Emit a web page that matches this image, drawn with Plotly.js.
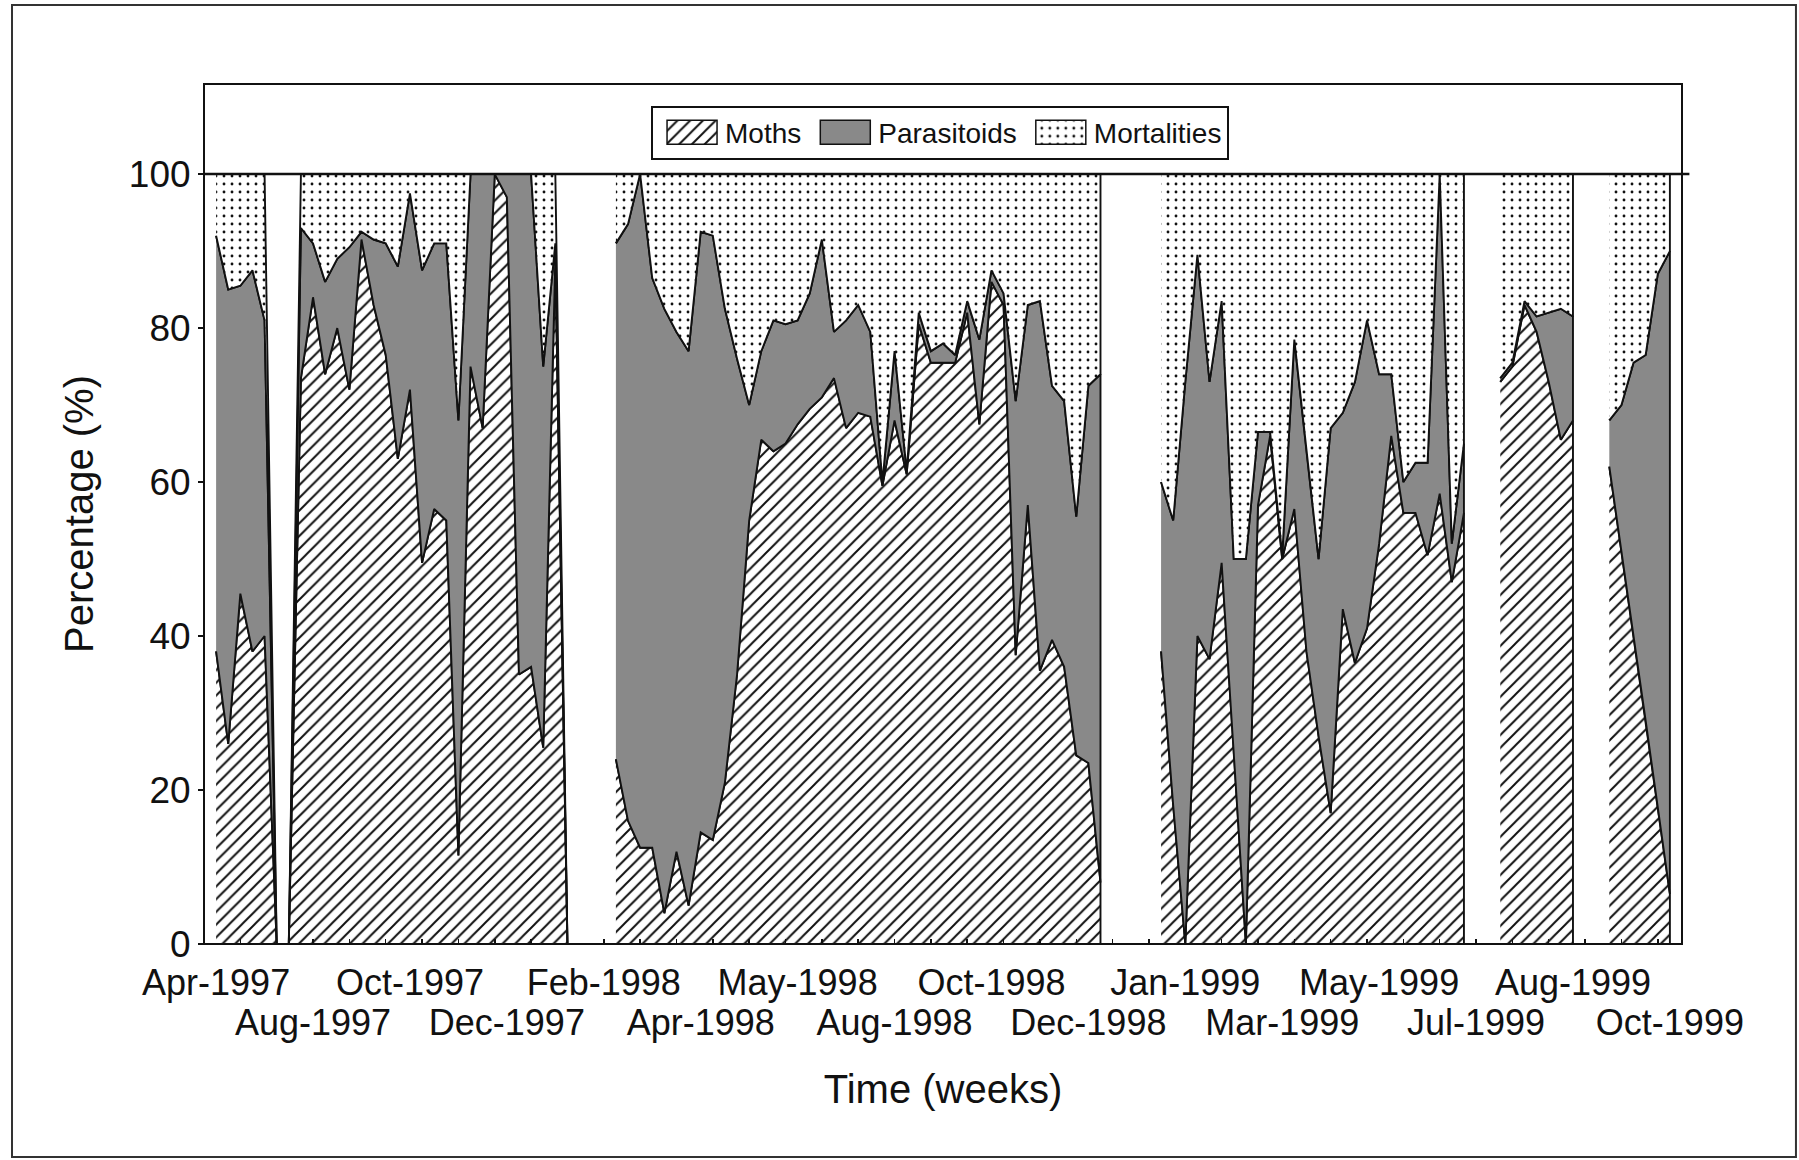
<!DOCTYPE html>
<html>
<head>
<meta charset="utf-8">
<script src="https://cdn.plot.ly/plotly-3.0.1.min.js"></script>
<style>
  html, body { margin: 0; padding: 0; background: #fff; }
  #chart { width: 1799px; height: 1160px; }
</style>
</head>
<body>
<div id="chart"></div>
<script>
// Weekly fate of collected larvae (% of each week's sample).
// Index 0 = first sampling week (April 1997); null = no sample that week.
const moths = [
  38, 26, 45.5, 38, 40, 0, 0,
  73.5, 84, 74, 80, 72, 91.5, 83, 76.5, 63, 72, 49.5, 56.5, 55, 11.5, 75, 67, 100, 97, 35, 36, 25.5, 89, 0,
  null, null, null,
  24, 16, 12.5, 12.5, 4, 12, 5, 14.5, 13.5, 21, 35, 55, 65.5, 64, 65, 67.5, 69.5, 71, 73.5, 67, 69, 68.5,
  59.5, 68, 61, 80.5, 75.5, 75.5, 75.5, 82, 67.5, 86, 83, 37.5, 57, 35.5, 39.5, 36, 24.5, 23.5, 8,
  null, null, null, null,
  38, 18, 0, 40, 37, 49.5, 25, 0, 57, 66, 50, 56.5, 38, 27, 17, 43.5, 36.5, 41, 52, 66, 56, 56, 50.5, 58.5, 47, 56,
  null, null,
  73, 75, 83, 79.5, 73, 65.5, 68,
  null, null,
  62, 51, 40, 29, 18, 6.5
];
const parasitoids = [
  54, 59, 40, 49.5, 41, 0, 0,
  19.5, 7, 12, 9, 18.5, 1, 8.5, 14.5, 25, 25.5, 38, 34.5, 36, 56.5, 25, 33, 0, 3, 65, 64, 49.5, 2, 0,
  null, null, null,
  67, 77.5, 87.5, 74, 78.5, 67.5, 72, 78, 78.5, 61.5, 41, 15, 11.5, 17, 15.5, 13.5, 15, 20.5, 6, 14, 14, 11,
  0.5, 9, 0.5, 1.5, 1.5, 2.5, 1, 1.5, 11, 1.5, 1.5, 33, 26, 48, 33, 34.5, 31, 49, 66,
  null, null, null, null,
  22, 37, 73, 49.5, 36, 34, 25, 50, 9.5, 0.5, 0.5, 22, 26, 23, 50, 25.5, 36.5, 40, 22, 8, 4, 6.5, 12, 41.5, 5, 9,
  null, null,
  0.5, 0.5, 0.5, 2, 9, 17, 13.5,
  null, null,
  6, 19, 35.5, 47.5, 69, 83.5
];
const mortalities = [
  8, 15, 14.5, 12.5, 19, 0, 0,
  7, 9, 14, 11, 9.5, 7.5, 8.5, 9, 12, 2.5, 12.5, 9, 9, 32, 0, 0, 0, 0, 0, 0, 25, 9, 0,
  null, null, null,
  9, 6.5, 0, 13.5, 17.5, 20.5, 23, 7.5, 8, 17.5, 24, 30, 23, 19, 19.5, 19, 15.5, 8.5, 20.5, 19, 17, 20.5,
  40, 23, 38.5, 18, 23, 22, 23.5, 16.5, 21.5, 12.5, 15.5, 29.5, 17, 16.5, 27.5, 29.5, 44.5, 27.5, 26,
  null, null, null, null,
  40, 45, 27, 10.5, 27, 16.5, 50, 50, 33.5, 33.5, 49.5, 21.5, 36, 50, 33, 31, 27, 19, 26, 26, 40, 37.5, 37.5, 0, 48, 35,
  null, null,
  26.5, 24.5, 16.5, 18.5, 18, 17.5, 18.5,
  null, null,
  32, 30, 24.5, 23.5, 13, 10
];
const seriesNames = ['Moths', 'Parasitoids', 'Mortalities'];

// Labelled weeks on the time axis (labels alternate between two rows)
const tickWeeks = [0, 8, 16, 24, 32, 40, 48, 56, 64, 72, 80, 88, 96, 104, 112, 120];
const tickLabels = ['Apr-1997', 'Aug-1997', 'Oct-1997', 'Dec-1997', 'Feb-1998', 'Apr-1998',
  'May-1998', 'Aug-1998', 'Oct-1998', 'Dec-1998', 'Jan-1999', 'Mar-1999', 'May-1999',
  'Jul-1999', 'Aug-1999', 'Oct-1999'];

const week = moths.map((_, i) => i);
const upperRow = tickWeeks.filter((_, i) => i % 2 === 0);
const upperText = tickLabels.filter((_, i) => i % 2 === 0);
const lowerRow = tickWeeks.filter((_, i) => i % 2 === 1);
const lowerText = tickLabels.filter((_, i) => i % 2 === 1);

// Build stacked bands: one closed polygon per run of sampled weeks,
// runs separated by null so each run is filled on its own.
function stackBands(seriesList) {
  const n = week.length;
  const base = new Array(n).fill(0);
  return seriesList.map(vals => {
    const lower = base.slice();
    const upper = vals.map((v, i) => v == null ? null : lower[i] + v);
    vals.forEach((v, i) => { if (v != null) base[i] += v; });
    const xs = [], ys = [];
    let i = 0;
    while (i < n) {
      if (vals[i] == null) { i++; continue; }
      let j = i;
      while (j + 1 < n && vals[j + 1] != null) j++;
      for (let k = i; k <= j; k++) { xs.push(week[k]); ys.push(upper[k]); }
      for (let k = j; k >= i; k--) { xs.push(week[k]); ys.push(lower[k]); }
      xs.push(null); ys.push(null);
      i = j + 1;
    }
    return { xs, ys };
  });
}

const bands = stackBands([moths, parasitoids, mortalities]);

const styles = [
  { fillcolor: '#ffffff', fillpattern: { shape: '/', size: 9, solidity: 0.22, fgcolor: '#111111', bgcolor: '#ffffff' } },
  { fillcolor: '#898989' },
  { fillcolor: '#ffffff', fillpattern: { shape: '.', size: 8, solidity: 0.1, fgcolor: '#111111', bgcolor: '#ffffff' } }
];

const traces = bands.map((b, s) => Object.assign({
  type: 'scatter',
  mode: 'lines',
  name: seriesNames[s],
  x: b.xs,
  y: b.ys,
  fill: 'toself',
  connectgaps: false,
  line: { color: '#111111', width: 1.9 },
  hoverinfo: 'skip'
}, styles[s]));

// empty trace that carries the second row of time labels
traces.push({ type: 'scatter', mode: 'lines', x: [null], y: [null], xaxis: 'x2', yaxis: 'y', showlegend: false, hoverinfo: 'skip' });

const FONT = 'Arial, "Liberation Sans", Helvetica, sans-serif';
const TICKFONT = { size: 36, family: FONT, color: '#111111' };

const layout = {
  width: 1799,
  height: 1160,
  margin: { l: 204, r: 117, t: 84, b: 216 },
  paper_bgcolor: '#ffffff',
  plot_bgcolor: '#ffffff',
  font: { family: FONT, color: '#111111' },
  showlegend: true,
  legend: {
    orientation: 'h',
    x: 0.498, xanchor: 'center',
    y: 0.975, yanchor: 'top',
    bgcolor: '#ffffff',
    bordercolor: '#111111',
    borderwidth: 2,
    font: { size: 28, family: FONT, color: '#111111' },
    itemwidth: 62,
    traceorder: 'normal',
    tracegroupgap: 0
  },
  xaxis: {
    range: [-1, 121],
    tickmode: 'array',
    tickvals: upperRow,
    ticktext: upperText,
    tickangle: 0,
    ticks: '',
    ticklabelstandoff: 14,
    showgrid: false,
    zeroline: false,
    showline: false,
    automargin: false,
    tickfont: TICKFONT,
    minor: { tickmode: 'linear', tick0: 2, dtick: 3, ticks: 'inside', ticklen: 5, tickwidth: 1.5, tickcolor: '#111111', showgrid: false },
    title: { text: 'Time (weeks)', font: { size: 40, family: FONT, color: '#111111' }, standoff: 72 }
  },
  xaxis2: {
    overlaying: 'x',
    anchor: 'y',
    side: 'bottom',
    range: [-1, 121],
    tickmode: 'array',
    tickvals: lowerRow,
    ticktext: lowerText,
    tickangle: 0,
    ticks: '',
    ticklabelstandoff: 54,
    showgrid: false,
    zeroline: false,
    showline: false,
    automargin: false,
    tickfont: TICKFONT
  },
  yaxis: {
    range: [0, 111.7],
    tickmode: 'array',
    tickvals: [0, 20, 40, 60, 80, 100],
    ticks: 'outside',
    ticklen: 5,
    tickwidth: 1.5,
    tickcolor: '#111111',
    showgrid: false,
    zeroline: false,
    showline: false,
    automargin: false,
    tickfont: { size: 37, family: FONT, color: '#111111' },
    title: { text: 'Percentage (%)', font: { size: 40, family: FONT, color: '#111111' }, standoff: 22 }
  },
  shapes: [
    // plot frame
    { type: 'rect', xref: 'paper', yref: 'paper', x0: 0, x1: 1, y0: 0, y1: 1,
      line: { color: '#111111', width: 2 }, layer: 'above' },
    // 100 % reference line
    { type: 'line', xref: 'paper', yref: 'y', x0: 0, x1: 1.005, y0: 100, y1: 100,
      line: { color: '#111111', width: 2.5 }, layer: 'above' },
    // outer figure border
    { type: 'rect', xref: 'paper', yref: 'paper', x0: -0.1299, x1: 1.0771, y0: -0.2477, y1: 1.0919,
      line: { color: '#333333', width: 2 }, layer: 'below' }
  ]
};

Plotly.newPlot('chart', traces, layout, { staticPlot: true, displayModeBar: false }).then(gd => {
  // larger boxed legend keys
  const key = 'M14,-12h50v24h-50z';
  gd.querySelectorAll('.legend .legendfill path').forEach(p => p.setAttribute('d', key));
  gd.querySelectorAll('.legend .legendlines path').forEach(p => {
    p.setAttribute('d', key);
    p.style.fill = 'none';
    p.style.strokeWidth = '1.5px';
  });
});
</script>
</body>
</html>
